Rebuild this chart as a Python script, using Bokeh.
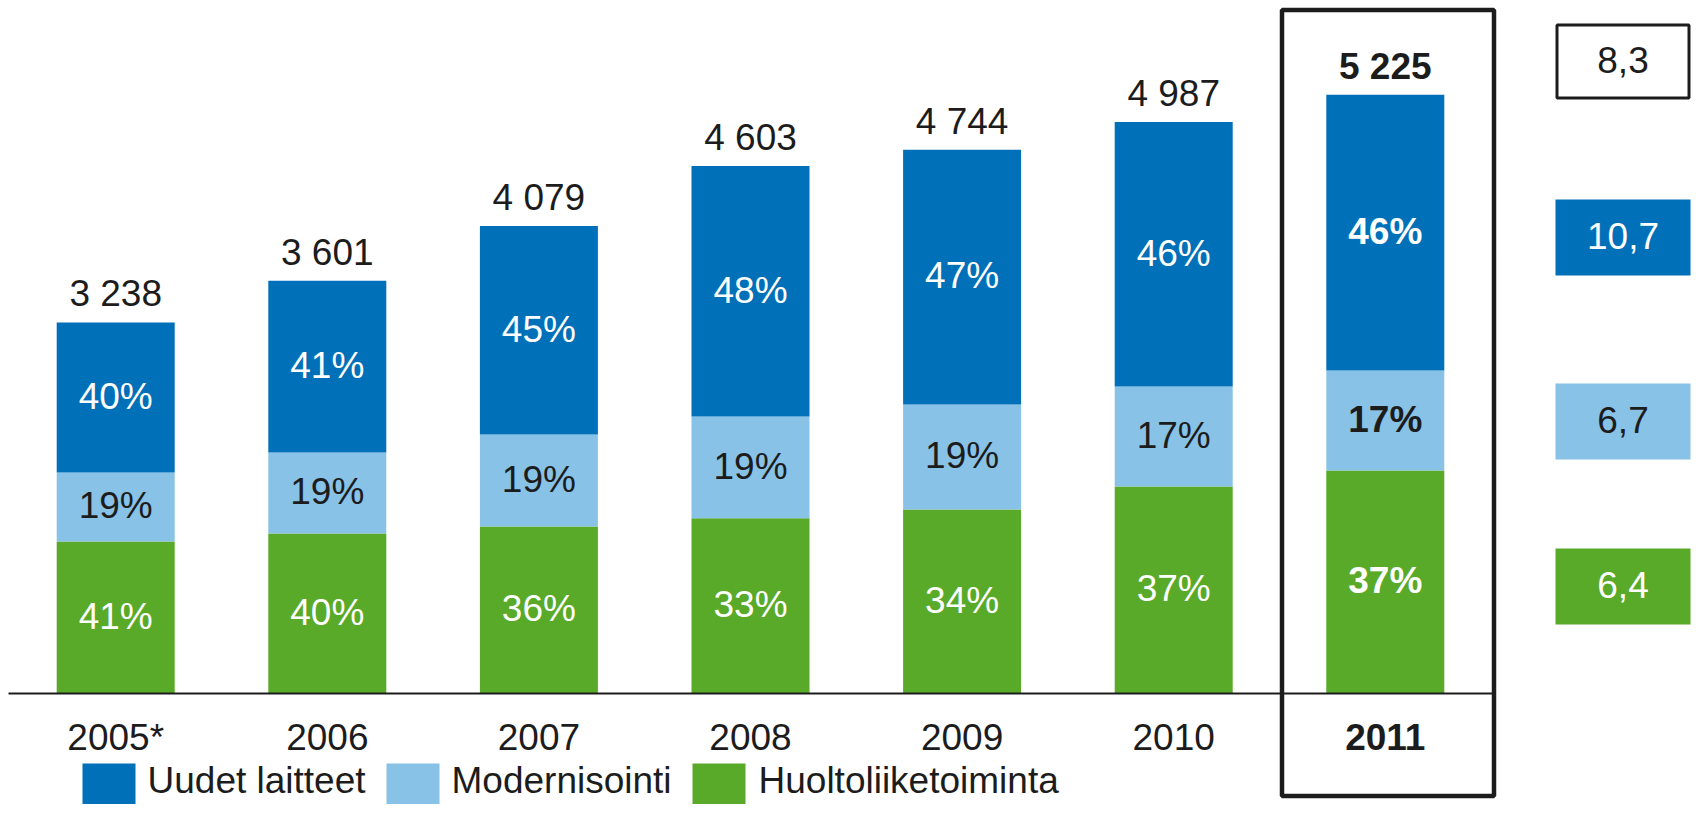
from bokeh.plotting import figure
from bokeh.models import Range1d, ColumnDataSource
from bokeh.core.properties import value
from bokeh.embed import file_html
from bokeh.resources import INLINE

# ---------------- data ----------------
years = ["2005*", "2006", "2007", "2008", "2009", "2010", "2011"]
totals = [3238, 3601, 4079, 4603, 4744, 4987, 5225]
# segment sizes (MEUR)
service = [1326, 1396, 1457, 1530, 1606, 1806, 1946]
modern = [602, 707, 803, 887, 916, 873, 872]
new_eq = [1310, 1498, 1819, 2186, 2222, 2308, 2407]
# printed shares
pct_new = ["40%", "41%", "45%", "48%", "47%", "46%", "46%"]
pct_mod = ["19%", "19%", "19%", "19%", "19%", "17%", "17%"]
pct_srv = ["41%", "40%", "36%", "33%", "34%", "37%", "37%"]
# growth figures shown on the right (total, new, modernisation, service)
growth = ["8,3", "10,7", "6,7", "6,4"]
series_names = ["Uudet laitteet", "Modernisointi", "Huoltoliiketoiminta"]

# ---------------- style ----------------
BLUE = "#0070B9"
LBLUE = "#88C2E6"
GREEN = "#58AA28"
DARK = "#1C1C1C"
FONT = value("Liberation Sans")
FSN = 37
FS = f"{FSN}px"
CAP = 0.716 * FSN        # cap height in px
TSHIFT = 0.39 * FSN      # renderer draws alphabetic text this much lower

W, H = 1692, 804
PXX = 211.6          # px per category step
PXY = 0.1146         # px per MEUR
X0 = -115.2 / PXX
X1 = X0 + W / PXX
Y1 = 693 / PXY
Y0 = Y1 - H / PXY


def X(px):
    return X0 + px / PXX


def Y(py):
    return Y1 - py / PXY


def DY(px):
    return px / PXY


def TB(py):
    """data y for a text whose baseline should sit at screen y = py"""
    return Y(py - TSHIFT)


p = figure(width=W, height=H, x_range=Range1d(X0, X1), y_range=Range1d(Y0, Y1),
           output_backend="svg", toolbar_location=None, min_border=0,
           x_axis_location=None, y_axis_location=None)
p.grid.visible = False
p.outline_line_color = None
p.background_fill_color = "white"
p.border_fill_color = "white"

idx = list(range(len(years)))
src = ColumnDataSource(dict(x=idx, srv=service, mod=modern, new=new_eq))
p.vbar_stack(["srv", "mod", "new"], x="x", width=118 / PXX, source=src,
             fill_color=[GREEN, LBLUE, BLUE], line_color=None)

# baseline
p.segment(x0=[X(8)], y0=[0], x1=[X(1494)], y1=[0], line_width=2, line_color=DARK)

# highlight frame around 2011
p.quad(left=[X(1281.5)], right=[X(1493.5)], top=[Y(9.5)], bottom=[Y(795.5)],
       fill_color=None, line_color=DARK, line_width=4.5)


def fmt(v):
    return f"{v:,}".replace(",", " ")


n = len(years)
last = n - 1
norm = list(range(last))
up = DY(TSHIFT)

# totals above bars
p.text(x=norm, y=[totals[i] + DY(14) + up for i in norm], text=[fmt(totals[i]) for i in norm],
       text_font=FONT, text_font_size=FS, text_color=DARK, text_align="center",
       text_baseline="alphabetic")
p.text(x=[last], y=[totals[last] + DY(14) + up], text=[fmt(totals[last])],
       text_font=FONT, text_font_size=FS, text_color=DARK, text_align="center",
       text_baseline="alphabetic", text_font_style="bold")

# percentage labels
half = DY(CAP / 2)
srv_c = [service[i] / 2 - half + up for i in range(n)]
mod_c = [service[i] + modern[i] / 2 - half + up for i in range(n)]
new_c = [service[i] + modern[i] + new_eq[i] / 2 - half + up for i in range(n)]
for ys, labels, col in [(srv_c, pct_srv, "white"), (mod_c, pct_mod, DARK), (new_c, pct_new, "white")]:
    p.text(x=norm, y=[ys[i] for i in norm], text=[labels[i] for i in norm],
           text_font=FONT, text_font_size=FS, text_color=col, text_align="center",
           text_baseline="alphabetic")
    p.text(x=[last], y=[ys[last]], text=[labels[last]],
           text_font=FONT, text_font_size=FS, text_color=col, text_align="center",
           text_baseline="alphabetic", text_font_style="bold")

# year labels
p.text(x=norm, y=[TB(751)] * len(norm), text=[years[i] for i in norm],
       text_font=FONT, text_font_size=FS, text_color=DARK, text_align="center",
       text_baseline="alphabetic")
p.text(x=[last], y=[TB(751)], text=[years[last]],
       text_font=FONT, text_font_size=FS, text_color=DARK, text_align="center",
       text_baseline="alphabetic", text_font_style="bold")

# growth boxes on the right
box_tops = [23, 199, 383, 548]
box_fill = ["white", BLUE, LBLUE, GREEN]
box_text = [DARK, "white", DARK, "white"]
bl, br, bh = 1555, 1690, 76
p.quad(left=[X(bl + 1.5)], right=[X(br - 1.5)], top=[Y(box_tops[0] + 1.5)],
       bottom=[Y(box_tops[0] + bh - 1.5)], fill_color="white", line_color=DARK, line_width=3)
p.quad(left=[X(bl)] * 3, right=[X(br)] * 3, top=[Y(t) for t in box_tops[1:]],
       bottom=[Y(t + bh) for t in box_tops[1:]], fill_color=box_fill[1:], line_color=None)
p.text(x=[X((bl + br) / 2)] * 4, y=[TB(t + bh / 2 + CAP / 2) for t in box_tops], text=growth,
       text_font=FONT, text_font_size=FS, text_color=box_text, text_align="center",
       text_baseline="alphabetic")

# legend (lifted so it stays inside the canvas)
sq_left = [82, 386, 692]
tx_left = [147, 451, 758]
leg_cols = [BLUE, LBLUE, GREEN]
p.quad(left=[X(v) for v in sq_left], right=[X(v + 53) for v in sq_left],
       top=[Y(763)] * 3, bottom=[Y(820)] * 3, fill_color=leg_cols, line_color=None)
p.text(x=[X(v) for v in tx_left], y=[TB(794)] * 3, text=series_names,
       text_font=FONT, text_font_size=FS, text_color=DARK, text_align="left",
       text_baseline="alphabetic")

open("out.html", "w").write(file_html(p, INLINE))
